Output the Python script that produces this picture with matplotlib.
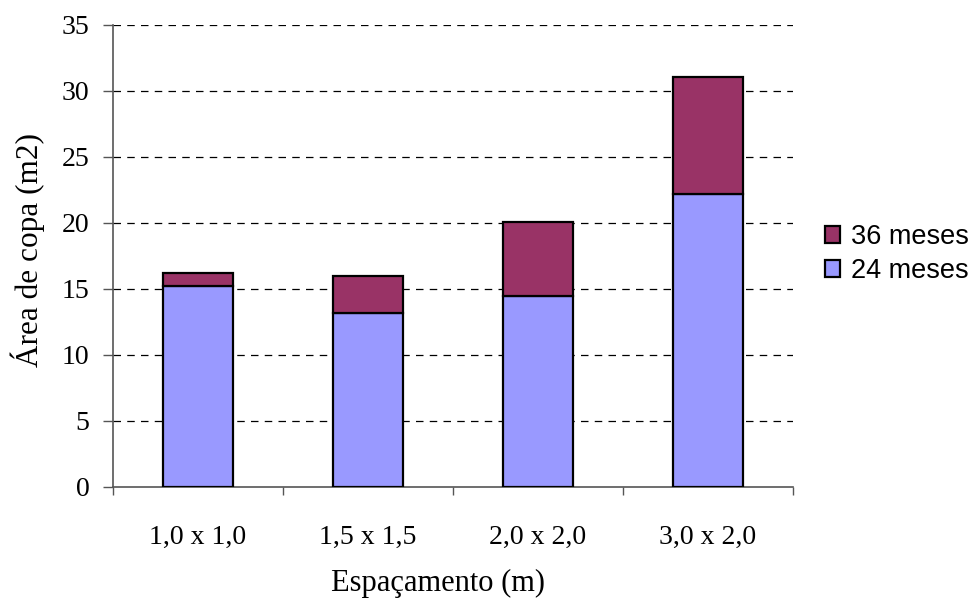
import matplotlib.pyplot as plt
import numpy as np

categories = ["1,0 x 1,0", "1,5 x 1,5", "2,0 x 2,0", "3,0 x 2,0"]
meses_24 = [15.25, 13.15, 14.5, 22.2]
meses_36_total = [16.2, 15.95, 20.1, 31.05]
meses_36 = [t - b for t, b in zip(meses_36_total, meses_24)]
y_ticks = [0, 5, 10, 15, 20, 25, 30, 35]

serif = ["Liberation Serif", "DejaVu Serif"]
sans = ["Liberation Sans", "DejaVu Sans"]

W, H = 976, 604
fig = plt.figure(figsize=(W / 100, H / 100), dpi=100)
ax = fig.add_axes([113 / W, 1 - 487 / H, 680 / W, 462 / H])

x = np.arange(len(categories))
w = 0.41
ax.bar(x, meses_24, width=w, color="#9999FF", edgecolor="black", linewidth=1.6,
       label="24 meses", zorder=3)
ax.bar(x, meses_36, width=w, bottom=meses_24, color="#993366", edgecolor="black",
       linewidth=1.6, label="36 meses", zorder=3)

ax.set_xlim(-0.5, len(categories) - 0.5)
ax.set_ylim(0, 35)
ax.set_yticks(y_ticks)
ax.set_yticklabels([str(v) for v in y_ticks], fontfamily=serif, fontsize=20)

for v in y_ticks[1:]:
    ax.axhline(v, color="black", linewidth=0.9, linestyle=(0, (6, 5)), zorder=1)

# category boundaries carry the tick marks, centers carry the labels
ax.set_xticks(np.arange(-0.5, len(categories), 1.0))
ax.set_xticklabels([])
ax.set_xticks(x, minor=True)
ax.set_xticklabels(categories, minor=True, fontfamily=serif, fontsize=20)
ax.tick_params(axis="x", which="major", direction="out", length=6, width=1, color="#555555")
ax.tick_params(axis="x", which="minor", length=0, pad=27)
ax.tick_params(axis="y", direction="out", length=7, width=1, color="#555555", pad=10)

for s in ["top", "right"]:
    ax.spines[s].set_visible(False)
for s in ["left", "bottom"]:
    ax.spines[s].set_color("#555555")
    ax.spines[s].set_linewidth(1.2)

ax.set_xlabel("Espaçamento (m)", fontfamily=serif, fontsize=22)
ax.xaxis.label.set_va("center")
ax.xaxis.set_label_coords((438 - 113) / 680, -(583 - 487) / 462)
ax.set_ylabel("Área de copa (m2)", fontfamily=serif, fontsize=22.5)
ax.yaxis.label.set_va("center")
ax.yaxis.set_label_coords((28 - 113) / 680, (487 - 250) / 462)

handles, labels = ax.get_legend_handles_labels()
leg = fig.legend(handles[::-1], labels[::-1], loc="center left",
                 bbox_to_anchor=(801 / W, 1 - 254 / H), frameon=False,
                 prop={"family": sans, "size": 19.5}, handlelength=0.55,
                 handleheight=0.55, handletextpad=0.4, labelspacing=0.3)

fig.savefig("out.png", dpi=100)
